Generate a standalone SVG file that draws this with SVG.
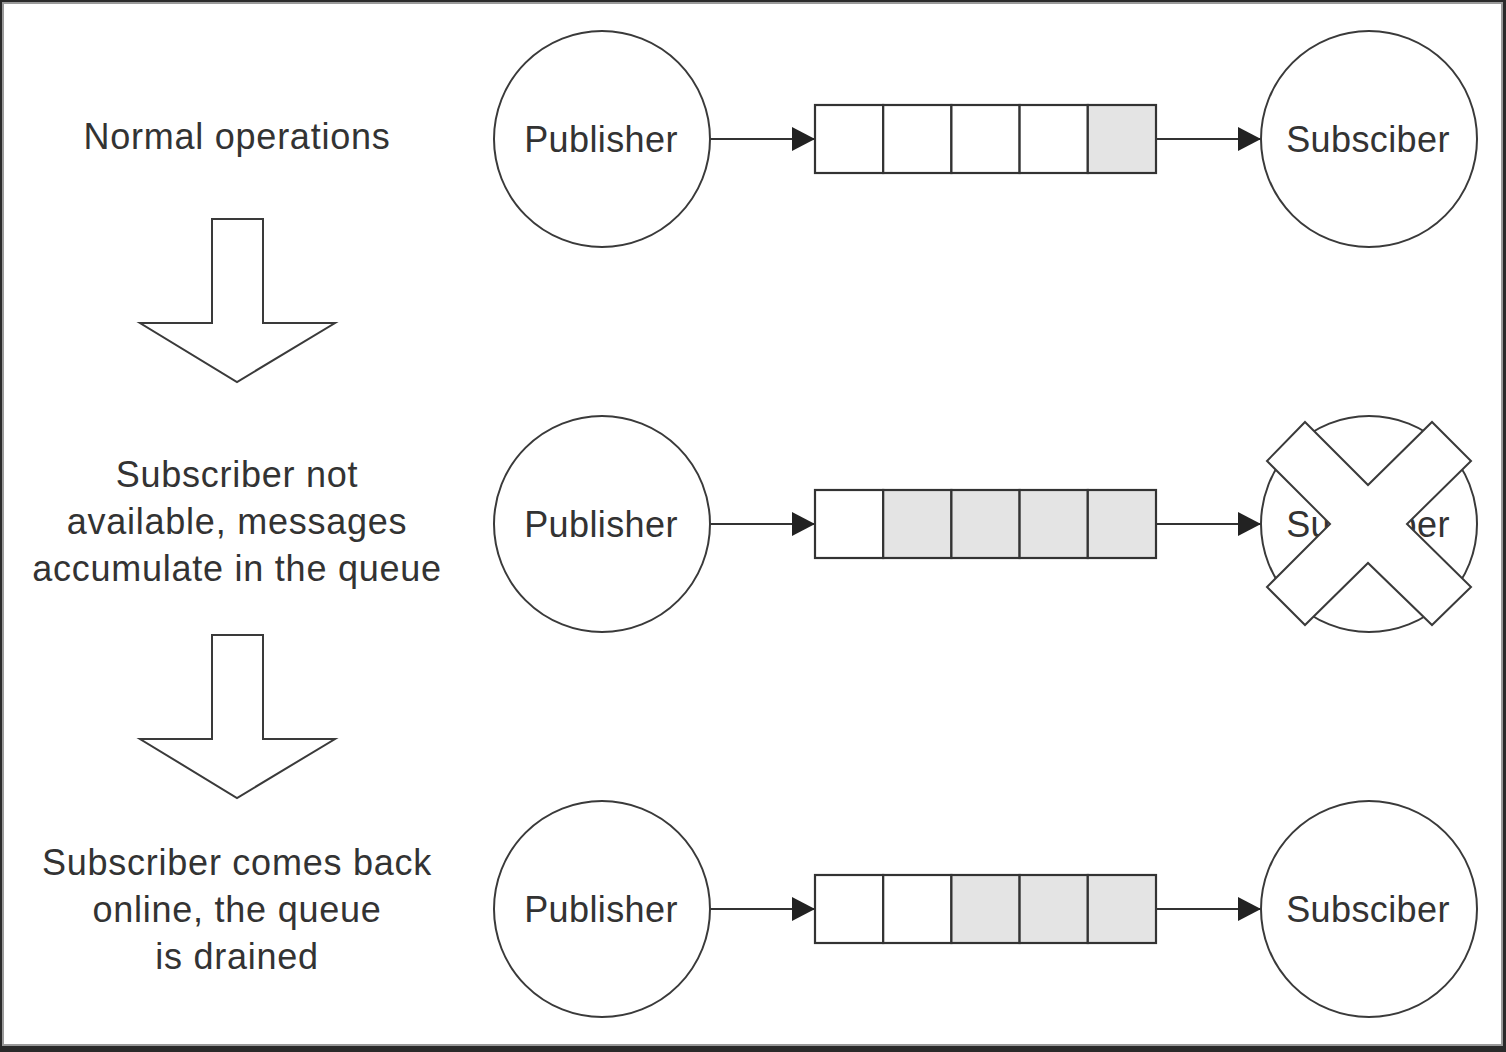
<svg xmlns="http://www.w3.org/2000/svg" width="1506" height="1052" viewBox="0 0 1506 1052">
<style>
  .ln{stroke:#333;stroke-width:2;fill:none}
  .node{fill:#fff;stroke:#3a3a3a;stroke-width:2}
  .cell{fill:#fff;stroke:#333;stroke-width:2.2}
  .full{fill:#e4e4e4}
  .lbl{font-family:"Liberation Sans",Arial,sans-serif;font-size:36px;fill:#333;text-anchor:middle;letter-spacing:0.4px}
  .side{letter-spacing:0.75px}
  .blk{fill:#fff;stroke:#3a3a3a;stroke-width:2}
</style>
<defs>
  <marker id="ah" markerWidth="24" markerHeight="24" refX="23" refY="12" orient="auto" markerUnits="userSpaceOnUse">
    <path d="M0,0 L23,12 L0,24 Z" fill="#222"/>
  </marker>
</defs>
<rect x="0" y="0" width="1506" height="1052" fill="#2a2a2a"/>
<rect x="3" y="3" width="1499" height="1042" fill="#fff" stroke="#9a9a9a" stroke-width="2"/>

<g id="labels">
  <g id="label-normal"><text class="lbl side" x="237" y="149">Normal operations</text></g>
  <g id="label-unavailable">
    <text class="lbl side" x="237" y="487">Subscriber not</text>
    <text class="lbl side" x="237" y="534">available, messages</text>
    <text class="lbl side" x="237" y="581">accumulate in the queue</text>
  </g>
  <g id="label-drained">
    <text class="lbl side" x="237" y="875">Subscriber comes back</text>
    <text class="lbl side" x="237" y="922">online, the queue</text>
    <text class="lbl side" x="237" y="969">is drained</text>
  </g>
</g>

<g id="step-arrow-1"><polygon class="blk" points="212,219 263,219 263,323 335,323 237,382 140,323 212,323"/></g>
<g id="step-arrow-2"><polygon class="blk" points="212,635 263,635 263,739 335,739 237,798 140,739 212,739"/></g>

<g id="connectors">
  <line class="ln" x1="710" y1="139" x2="815" y2="139" marker-end="url(#ah)"/>
  <line class="ln" x1="1156" y1="139" x2="1261" y2="139" marker-end="url(#ah)"/>
  <line class="ln" x1="710" y1="524" x2="815" y2="524" marker-end="url(#ah)"/>
  <line class="ln" x1="1156" y1="524" x2="1261" y2="524" marker-end="url(#ah)"/>
  <line class="ln" x1="710" y1="909" x2="815" y2="909" marker-end="url(#ah)"/>
  <line class="ln" x1="1156" y1="909" x2="1261" y2="909" marker-end="url(#ah)"/>
</g>

<g id="publisher-1"><circle class="node" cx="602" cy="139" r="108"/><text class="lbl" x="601" y="152" letter-spacing="0">Publisher</text></g>
<g id="publisher-2"><circle class="node" cx="602" cy="524" r="108"/><text class="lbl" x="601" y="537" letter-spacing="0">Publisher</text></g>
<g id="publisher-3"><circle class="node" cx="602" cy="909" r="108"/><text class="lbl" x="601" y="922" letter-spacing="0">Publisher</text></g>

<g id="queue-1">
  <rect class="cell" x="815" y="105" width="68.2" height="68"/>
  <rect class="cell" x="883.2" y="105" width="68.2" height="68"/>
  <rect class="cell" x="951.4" y="105" width="68.2" height="68"/>
  <rect class="cell" x="1019.6" y="105" width="68.2" height="68"/>
  <rect class="cell full" x="1087.8" y="105" width="68.2" height="68"/>
</g>
<g id="queue-2">
  <rect class="cell" x="815" y="490" width="68.2" height="68"/>
  <rect class="cell full" x="883.2" y="490" width="68.2" height="68"/>
  <rect class="cell full" x="951.4" y="490" width="68.2" height="68"/>
  <rect class="cell full" x="1019.6" y="490" width="68.2" height="68"/>
  <rect class="cell full" x="1087.8" y="490" width="68.2" height="68"/>
</g>
<g id="queue-3">
  <rect class="cell" x="815" y="875" width="68.2" height="68"/>
  <rect class="cell" x="883.2" y="875" width="68.2" height="68"/>
  <rect class="cell full" x="951.4" y="875" width="68.2" height="68"/>
  <rect class="cell full" x="1019.6" y="875" width="68.2" height="68"/>
  <rect class="cell full" x="1087.8" y="875" width="68.2" height="68"/>
</g>

<g id="subscriber-1"><circle class="node" cx="1369" cy="139" r="108"/><text class="lbl" x="1368" y="152">Subsciber</text></g>
<g id="subscriber-2">
  <circle class="node" cx="1369" cy="524" r="108"/><text class="lbl" x="1368" y="537">Subsciber</text>
  <polygon class="blk" points="1305,422 1368,485 1432,422 1471,461 1407,524 1471,587 1432,625 1368,563 1305,625 1267,587 1330,524 1267,461"/>
</g>
<g id="subscriber-3"><circle class="node" cx="1369" cy="909" r="108"/><text class="lbl" x="1368" y="922">Subsciber</text></g>
</svg>
